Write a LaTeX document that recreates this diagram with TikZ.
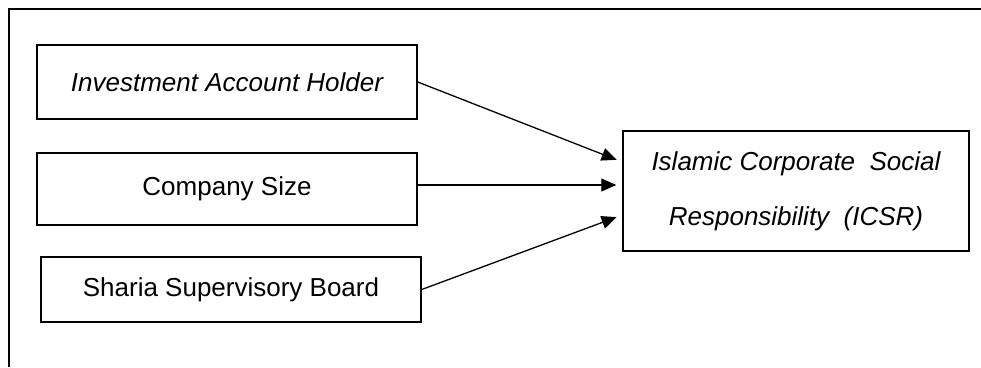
\documentclass[tikz,border=0pt]{standalone}
\usepackage{fontspec}
\setmainfont{Liberation Sans}
\usetikzlibrary{arrows.meta}
\tikzstyle{factor} = [rectangle, 
minimum width=380pt, 
minimum height=72pt, 
text centered, 
draw=black, 
line width=1.5pt, 
font=\fontsize{26}{30}\selectfont]
\tikzstyle{outcome} = [rectangle, 
minimum width=346pt, 
minimum height=120pt, 
text centered, 
align=center, 
draw=black, 
line width=1.5pt, 
font=\fontsize{26}{55}\selectfont\itshape]
\tikzstyle{arrow} = [line width=1.3pt,
-{Triangle[length=15pt,width=13pt]},
shorten >=6pt]

\begin{document}
\begin{tikzpicture}[x=1pt, y=-1pt]
			
			\useasboundingbox (0,0) rectangle (981,367);
			\draw [line width=1.5pt] (981,9) -- (9,9) -- (9,367);
			
			\node (iah) [factor, minimum height=74pt] at (227,82) {\itshape Investment Account Holder};
			
			\node (size) [factor] at (227,189) {Company Size};
			
			\node (ssb) [factor, minimum height=65pt] at (231,289.5) {Sharia Supervisory Board};
			
			\node (icsr) [outcome] at (796,191) {Islamic Corporate~ Social\\Responsibility~ (ICSR)};
			
			\draw [arrow] (iah.east) -- ([yshift=29pt]icsr.west);
			\draw [arrow] ([yshift=4pt]size.east) -- ([yshift=6pt]icsr.west);
			\draw [arrow] (ssb.east) -- ([yshift=-24pt]icsr.west);
			
			
			\end{tikzpicture}
\end{document}
